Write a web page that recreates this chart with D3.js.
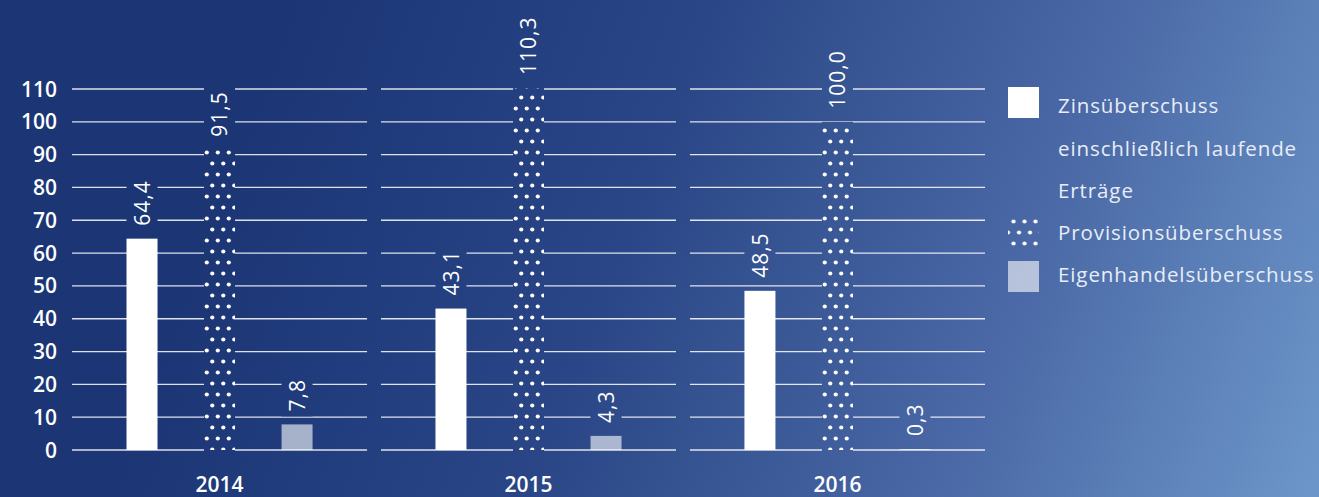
<!DOCTYPE html>
<html><head><meta charset="utf-8">
<script src="https://cdn.jsdelivr.net/npm/d3@7"></script>
<style>html,body{margin:0;padding:0;overflow:hidden;background:#1b3575}</style>
</head><body>
<svg id="chart" width="1319" height="497"></svg>
<script>
// Data
const years = ["2014", "2015", "2016"];
const seriesKeys = ["zins", "provision", "eigenhandel"];
const zinsValues = [64.4, 43.1, 48.5];
const provisionValues = [91.5, 110.3, 100.0];
const eigenhandelValues = [7.8, 4.3, 0.3];
const yTicks = [0, 10, 20, 30, 40, 50, 60, 70, 80, 90, 100, 110];
const legendItems = [
  { key: "zins", lines: ["Zinsüberschuss", "einschließlich laufende", "Erträge"] },
  { key: "provision", lines: ["Provisionsüberschuss"] },
  { key: "eigenhandel", lines: ["Eigenhandelsüberschuss"] }
];

const valuesByKey = { zins: zinsValues, provision: provisionValues, eigenhandel: eigenhandelValues };
const rows = [];
years.forEach((y, i) => seriesKeys.forEach(k => rows.push({ year: y, key: k, value: valuesByKey[k][i] })));

const de = d3.formatLocale({ decimal: ",", thousands: ".", grouping: [3], currency: ["", " €"] });
const fmt = de.format(".1f");

const W = 1319, H = 497;
const svg = d3.select("#chart");
const defs = svg.append("defs");

// Background gradient
const bg = defs.append("linearGradient").attr("id", "bg")
  .attr("gradientUnits", "userSpaceOnUse")
  .attr("x1", 250).attr("y1", 100).attr("x2", 1319).attr("y2", 497);
[[0, "#1b3575"], [0.35, "#2a4686"], [0.7, "#4b6aa7"], [1, "#6d97ca"]]
  .forEach(([o, c]) => bg.append("stop").attr("offset", o).attr("stop-color", c));
svg.append("rect").attr("width", W).attr("height", H).attr("fill", "url(#bg)");

// Scales
const x0 = d3.scaleBand().domain(years).range([72, 985]).paddingInner(0.045).paddingOuter(0);
const x1 = d3.scalePoint().domain(seriesKeys).range([0, x0.bandwidth()]).padding(0.903);
const barW = 31;
const y = d3.scaleLinear().domain([0, 110]).range([450, 89]);

const barX = d => x0(d.year) + x1(d.key) - barW / 2;

// Dot pattern per year so the dots line up with each bar
function dotPattern(id, px, py) {
  const p = defs.append("pattern").attr("id", id)
    .attr("patternUnits", "userSpaceOnUse")
    .attr("x", px).attr("y", py).attr("width", 11).attr("height", 22);
  p.append("circle").attr("cx", 2.75).attr("cy", 5.5).attr("r", 2.1).attr("fill", "#fff");
  p.append("circle").attr("cx", 8.25).attr("cy", 16.5).attr("r", 2.1).attr("fill", "#fff");
  p.append("circle").attr("cx", -2.75).attr("cy", 16.5).attr("r", 2.1).attr("fill", "#fff");
}
years.forEach(yr => dotPattern("dots" + yr, x0(yr) + x1("provision") - barW / 2, y(0) + 5));
dotPattern("dotsLegend", 1010.75, 216);

const labelGap = 13;
const labelG = svg.append("g").attr("class", "value-labels");

// Gridlines, masked where dotted bars and value labels sit
const mask = defs.append("mask").attr("id", "gridMask")
  .attr("maskUnits", "userSpaceOnUse").attr("x", 0).attr("y", 0).attr("width", W).attr("height", H);
mask.append("rect").attr("width", W).attr("height", H).attr("fill", "#fff");

const grid = svg.append("g").attr("mask", "url(#gridMask)");
years.forEach(yr => {
  grid.append("g").selectAll("line").data(yTicks).join("line")
    .attr("x1", x0(yr)).attr("x2", x0(yr) + x0.bandwidth())
    .attr("y1", d => y(d)).attr("y2", d => y(d))
    .attr("stroke", "#fff").attr("stroke-opacity", 0.85).attr("stroke-width", 1.3);
});

// Y axis labels
svg.append("g").selectAll("text").data(yTicks).join("text")
  .attr("x", 57).attr("y", d => y(d)).attr("dy", "0.36em")
  .attr("text-anchor", "end")
  .attr("font-family", "Open Sans, sans-serif").attr("font-weight", 600)
  .attr("font-size", 21).attr("fill", "#fff")
  .text(d => d);

// Bars
const fillFor = d => d.key === "zins" ? "#fff" : d.key === "provision" ? `url(#dots${d.year})` : "rgba(255,255,255,0.6)";
svg.append("g").selectAll("rect").data(rows).join("rect")
  .attr("x", barX).attr("width", barW)
  .attr("y", d => y(d.value)).attr("height", d => y(0) - y(d.value))
  .attr("fill", fillFor);

// Dotted bars cut the grid
mask.selectAll("rect.bar").data(rows.filter(d => d.key === "provision")).join("rect")
  .attr("class", "bar")
  .attr("x", barX).attr("width", barW)
  .attr("y", d => y(d.value)).attr("height", d => y(0) - y(d.value) + 2)
  .attr("fill", "#000");

// Value labels, rotated
const labels = labelG.raise().selectAll("text").data(rows).join("text")
  .attr("transform", d => `translate(${x0(d.year) + x1(d.key)},${y(d.value) - labelGap}) rotate(-90)`)
  .attr("dy", "0.36em")
  .attr("font-family", "Open Sans, sans-serif").attr("font-size", 21)
  .attr("letter-spacing", 1)
  .attr("fill", "#fff")
  .text(d => fmt(d.value));

labels.each(function (d) {
  const len = this.getComputedTextLength();
  mask.append("rect")
    .attr("x", barX(d)).attr("width", barW)
    .attr("y", y(d.value) - labelGap - len - 5)
    .attr("height", len + 10)
    .attr("fill", "#000");
});

// Year labels
svg.append("g").selectAll("text").data(years).join("text")
  .attr("x", d => x0(d) + x0.bandwidth() / 2).attr("y", 492)
  .attr("text-anchor", "middle")
  .attr("font-family", "Open Sans, sans-serif").attr("font-weight", 600)
  .attr("font-size", 21).attr("fill", "#fff")
  .text(d => d);

// Legend
const legend = svg.append("g").attr("class", "legend");
const legendTop = [87, 219, 261];
const legendLineTop = [113, 240, 282];
legendItems.forEach((item, i) => {
  const fill = item.key === "zins" ? "#fff" : item.key === "provision" ? "url(#dotsLegend)" : "rgba(255,255,255,0.6)";
  legend.append("rect").attr("x", 1008).attr("y", legendTop[i])
    .attr("width", 31).attr("height", item.key === "provision" ? 28 : 31)
    .attr("fill", fill);
  legend.append("g").selectAll("text").data(item.lines).join("text")
    .attr("x", 1058).attr("y", (d, j) => legendLineTop[i] + j * 42.5)
    .attr("font-family", "Open Sans, sans-serif").attr("font-size", 20.5)
    .attr("letter-spacing", 0.9)
    .attr("fill", "#e8edf7")
    .text(d => d);
});
</script>
</body></html>
